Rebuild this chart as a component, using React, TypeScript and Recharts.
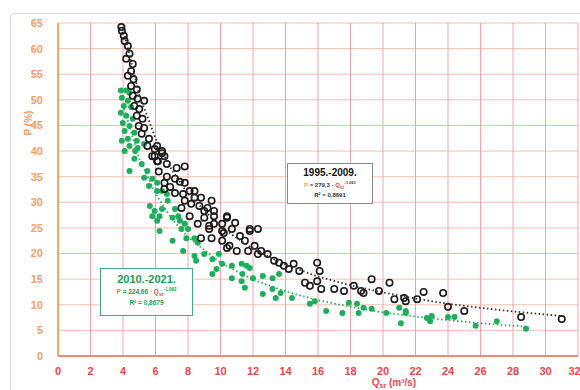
import React from "react";
import { ScatterChart, Scatter, XAxis, YAxis, CartesianGrid } from "recharts";

const xTicks = [0, 2, 4, 6, 8, 10, 12, 14, 16, 18, 20, 22, 24, 26, 28, 30, 32];
const yTicks = [0, 5, 10, 15, 20, 25, 30, 35, 40, 45, 50, 55, 60, 65];

// 1995.-2009. (Q m3/s, P %)
const period1995: [number, number][] = [
  [3.9, 64.2], [3.93, 63.5], [4.05, 62.5], [4.1, 61.5], [4.3, 60.5], [4.4, 59], [4.2, 58], [4.6, 57],
  [4.5, 55.6], [4.3, 54.7], [4.65, 54], [4.5, 52.7], [4.85, 52], [4.6, 50.8], [4.9, 50.2], [4.7, 48.8],
  [5.0, 48.2], [5.3, 49.8], [4.85, 46.9], [5.2, 46.3], [4.97, 44.9], [5.3, 44.5], [5.15, 43.4], [5.6, 42.4],
  [5.5, 41], [5.95, 40.4], [5.8, 39], [6.1, 38], [6.4, 39.6], [6.2, 36], [6.7, 35], [7.8, 37], [6.9, 33],
  [7.5, 34], [6.55, 32.6], [7.2, 31.8], [8.1, 32.2], [7.8, 30.3], [8.4, 30.9], [8.7, 29.3], [9.0, 28.3],
  [9.45, 30.3], [8.1, 27.3], [9.6, 27.3], [9.3, 25.4], [10.1, 25.8], [10.2, 24], [10.4, 27.3], [10.7, 24.8],
  [11.2, 23.4], [11.5, 22.5], [11.8, 24.4], [12.1, 21.5], [12.3, 24.8], [10.55, 21.5], [12.5, 20.5],
  [12.9, 19.9], [13.3, 18.6], [13.6, 18.2], [13.9, 17.6], [14.2, 17], [14.5, 18], [14.85, 16.6],
  [15.95, 18.2], [16.1, 16.6], [15.95, 14.6], [15.5, 13.7], [15.2, 14.3], [16.2, 13.1], [17.0, 13.1],
  [17.6, 12.7], [18.2, 13.7], [18.65, 12.7], [19.3, 15], [20.4, 14.3], [18.8, 12.3], [19.75, 12.7],
  [20.7, 11.1], [21.3, 11.3], [22.1, 11.1], [22.5, 12.5], [23.7, 12.3], [24.0, 9.6], [25.0, 8.8],
  [28.5, 7.6], [31.0, 7.2], [21.4, 10.7],
  [6.1, 41], [6.4, 40], [5.95, 39], [6.55, 39], [6.15, 38], [6.7, 37.5], [7.3, 36.7], [6.55, 33.8],
  [7.2, 34.6], [7.8, 33.8], [7.7, 31.6], [8.4, 32.2], [8.8, 30.9], [8.2, 29.7], [7.6, 28.9], [9.2, 28.9],
  [9.6, 28.3], [10.4, 27], [9.0, 27], [8.6, 25.8], [9.6, 25.8], [9.3, 24.8], [10.1, 24.4], [10.9, 26],
  [11.8, 24.8], [9.45, 23], [10.1, 22.5], [10.4, 21.1], [11.0, 20.5], [11.7, 20.5], [12.3, 19.9], [8.8, 23],
];

// 2010.-2021.
const period2010: [number, number][] = [
  [3.87, 51.8], [4.2, 51.8], [4.4, 51.4], [3.93, 50.4], [4.3, 49.8], [4.05, 48.8], [4.5, 48.6],
  [3.87, 47.5], [4.2, 46.9], [4.6, 46.3], [3.99, 45.5], [4.4, 44.9], [4.1, 43.9], [4.7, 43.6],
  [4.3, 42.4], [3.93, 42], [4.85, 42], [4.4, 41], [4.1, 40], [4.75, 40], [4.9, 40.6], [5.3, 41.4],
  [4.7, 38.5], [5.15, 37.5], [4.4, 36.1], [5.5, 36.1], [5.3, 34.8], [5.8, 34.6], [6.1, 33.8], [5.6, 33.2],
  [6.1, 32.2], [6.4, 32.2], [6.7, 31.6], [6.75, 30.3], [5.65, 29.3], [5.95, 28.3], [6.4, 28.7], [5.8, 27.3],
  [6.25, 27.3], [6.1, 26.4], [7.2, 28.7], [7.4, 27.3], [7.5, 26.4], [7.05, 27], [7.8, 25.8], [7.6, 24.8],
  [8.0, 24.8], [6.25, 24.4], [7.05, 22.5], [7.9, 23], [8.4, 23], [8.6, 22.1], [7.7, 20.5], [8.4, 19.5],
  [9.0, 19.9], [9.5, 18.9], [9.9, 19.9], [10.1, 18], [10.7, 17.6], [11.3, 18], [8.5, 18.6], [9.5, 16],
  [9.75, 17], [10.7, 15.2], [11.3, 14.6], [11.5, 13.3], [11.8, 17.2],
  [11.6, 17.6], [11.35, 16], [12.0, 15.2], [12.6, 15.6], [13.2, 15.2], [13.6, 16], [12.6, 12.1],
  [13.4, 11.3], [13.7, 12.3], [13.2, 13.1], [14.4, 11.3], [15.5, 10.2], [15.8, 10.7], [16.5, 8.8],
  [17.5, 8.4], [17.9, 10.4], [18.4, 10.2], [18.8, 9.4], [19.3, 9.2], [18.5, 8.4], [20.2, 8.4],
  [21.0, 9.4], [21.4, 8.4], [21.4, 8.8], [21.1, 6.4], [22.7, 7.4], [23.0, 7.8], [22.9, 6.8],
  [24.0, 7.6], [24.4, 7.6], [25.7, 5.9], [27.0, 6.8], [28.8, 5.3],
];

// dotted trend curves
const trend1995: [number, number][] = [
  [4, 64], [5, 51], [6, 42.5], [7, 36.3], [8, 31.7], [10, 25.2], [12, 20.9], [14, 17.8], [16, 15.5],
  [18, 13.8], [20, 12.4], [22, 11.2], [24, 10.2], [26, 9.4], [28, 8.7], [30, 8.1], [31, 7.8],
];
const trend2010: [number, number][] = [
  [4, 49], [5, 38.5], [6, 31.7], [7, 26.8], [8, 23.2], [10, 18.2], [12, 14.9], [14, 12.6], [16, 10.9],
  [18, 9.6], [20, 8.5], [22, 7.7], [24, 7], [26, 6.4], [28, 5.9], [29, 5.7],
];

const toObj = (a: [number, number][]) => a.map(([q, p]) => ({ q, p }));

const GREEN = "#1fae5c";
const FONT = "'Liberation Sans', Arial, sans-serif";

const BlackDot = (props: any) => (
  <circle cx={props.cx} cy={props.cy} r={3.2} fill="none" stroke="#1a1a1a" strokeWidth={1.6} />
);
const GreenDot = (props: any) => <circle cx={props.cx} cy={props.cy} r={3} fill={GREEN} />;
const NoDot = () => <g />;

export default function App() {
  return (
    <div style={{ position: "fixed", left: 0, top: 0, width: 580, height: 390, overflow: "hidden", background: "#fff", fontFamily: FONT }}>
      <div style={{ position: "absolute", left: 10, top: 13, width: 620, height: 420, border: "1px solid #d8d8d8", borderRadius: 4 }} />
      <div style={{ position: "absolute", left: 0, top: 0 }}>
        <ScatterChart width={580} height={390} margin={{ top: 23, right: 2, bottom: 0, left: 0 }}>
          <CartesianGrid horizontal={true} vertical={false} stroke="#f5c2ae" strokeWidth={1} />
          <CartesianGrid horizontal={false} vertical={true} stroke="#efa4ac" strokeWidth={1} />
          <XAxis
            type="number"
            dataKey="q"
            domain={[0, 32]}
            ticks={xTicks}
            allowDataOverflow
            height={34}
            tickLine={false}
            tickMargin={5}
            axisLine={{ stroke: "#f08a78", strokeWidth: 2 }}
            tick={{ fill: "#e8484c", fontSize: 11, fontWeight: 700, fontFamily: FONT }}
          />
          <YAxis
            type="number"
            dataKey="p"
            domain={[0, 65]}
            ticks={yTicks}
            allowDataOverflow
            width={58}
            tickLine={false}
            tickMargin={9}
            axisLine={{ stroke: "#f5a862", strokeWidth: 2 }}
            tick={{ fill: "#f2a066", fontSize: 11, fontWeight: 700, fontFamily: FONT }}
          />
          <Scatter data={toObj(period2010)} shape={GreenDot} isAnimationActive={false} />
          <Scatter data={toObj(period1995)} shape={BlackDot} isAnimationActive={false} />
          <Scatter
            data={toObj(trend2010)}
            shape={NoDot}
            line={{ stroke: GREEN, strokeWidth: 1.8, strokeDasharray: "1.5 2.5" }}
            isAnimationActive={false}
          />
          <Scatter
            data={toObj(trend1995)}
            shape={NoDot}
            line={{ stroke: "#333", strokeWidth: 1.8, strokeDasharray: "1.5 2.5" }}
            isAnimationActive={false}
          />
        </ScatterChart>
      </div>

      <div style={{ position: "absolute", left: 28, top: 123, transform: "translate(-50%, -50%) rotate(-90deg)", color: "#f09860", fontSize: 10, fontWeight: 700, whiteSpace: "nowrap" }}>
        P (%)
      </div>
      <div style={{ position: "absolute", left: 394, top: 377, transform: "translateX(-50%)", color: "#e8484c", fontSize: 10, fontWeight: 700, whiteSpace: "nowrap", lineHeight: "11px" }}>
        Q<span style={{ fontSize: 7, position: "relative", top: 2 }}>sr</span> (m³/s)
      </div>

      <div style={{ position: "absolute", left: 287, top: 163, width: 84, height: 39, border: "1px solid #8a8a8a", background: "#fff", textAlign: "center", lineHeight: 1 }}>
        <div style={{ fontSize: 10, fontWeight: 700, color: "#111", marginTop: 4 }}>1995.-2009.</div>
        <div style={{ fontSize: 6, fontWeight: 700, color: "#333", marginTop: 3, whiteSpace: "nowrap" }}>
          <span style={{ color: "#f0a060" }}>P</span> = 279,3 · <span style={{ color: "#e8484c" }}>Q<sub style={{ fontSize: 5 }}>sr</sub></span>
          <sup style={{ fontSize: 4 }}>-1,061</sup>
        </div>
        <div style={{ fontSize: 6, fontWeight: 700, color: "#333", marginTop: 2 }}>R² = 0,8691</div>
      </div>

      <div style={{ position: "absolute", left: 100, top: 268, width: 91, height: 46, border: "1px solid #4aa88a", background: "#fff", textAlign: "center", lineHeight: 1 }}>
        <div style={{ fontSize: 11, fontWeight: 700, color: "#1a9e55", marginTop: 5 }}>2010.-2021.</div>
        <div style={{ fontSize: 6.5, fontWeight: 700, color: "#1a9e55", marginTop: 3, whiteSpace: "nowrap" }}>
          <span style={{ color: "#f07060" }}>P</span> = 224,66 · <span style={{ color: "#e8484c" }}>Q<sub style={{ fontSize: 5 }}>sr</sub></span>
          <sup style={{ fontSize: 4.5 }}>-1,092</sup>
        </div>
        <div style={{ fontSize: 6.5, fontWeight: 700, color: "#1a9e55", marginTop: 3 }}>R² = 0,8679</div>
      </div>
    </div>
  );
}
